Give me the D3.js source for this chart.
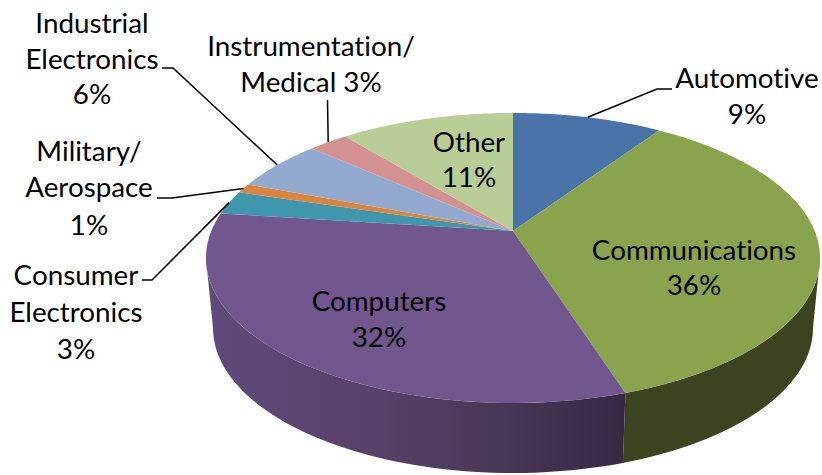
<!DOCTYPE html>
<html>

<head>
  <meta charset="utf-8">
  <script src="https://d3js.org/d3.v7.min.js"></script>
  <style>
    html, body { margin: 0; padding: 0; background: #fff; }
    svg { display: block; }
    text { font-family: Lato, "Open Sans", sans-serif; font-size: 27.8px; fill: #000; text-anchor: middle; font-variant-ligatures: none; }
  </style>
</head>

<body>
  <svg width="822" height="475"></svg>
  <script>
    // values, clockwise from the top
    const categories = ["Automotive", "Communications", "Computers", "Consumer Electronics",
      "Military/Aerospace", "Industrial Electronics", "Instrumentation/Medical", "Other"];
    const shares = [9.45, 35.7, 32.1, 2.65, 1.05, 5.8, 2.5, 11];
    const colors = ["#4a74a9", "#8aa44e", "#71578e", "#3f97ad", "#dd843c", "#92a9d0", "#d39291", "#b9cd96"];

    const svg = d3.select("svg");

    // perspective of the tilted disc
    const apexX = 513, apexY = 231, scaleX = 301.7, scaleY = 140, persp = 0.186;
    const depth = 70;

    function upperRim(a) {
      const u = Math.sin(a), v = Math.cos(a), w = 1 + persp * v;
      return [apexX + scaleX * u / w, apexY - scaleY * v / w];
    }
    // lower rim is a bit narrower than the upper one
    function lowerRim(a) {
      const p = upperRim(a);
      return [512.5 + (p[0] - 512.5) * 0.977, p[1] + depth];
    }

    function steps(a0, a1) {
      return d3.range(0, 61).map(i => a0 + (a1 - a0) * i / 60);
    }

    const arcs = d3.pie().sort(null)(shares);
    const line = d3.line();

    const defs = svg.append("defs");
    const grad = defs.append("linearGradient")
      .attr("id", "wallPurple")
      .attr("gradientUnits", "userSpaceOnUse")
      .attr("x1", 205).attr("x2", 625).attr("y1", 0).attr("y2", 0);
    grad.append("stop").attr("offset", "0").attr("stop-color", "#5f4a7c");
    grad.append("stop").attr("offset", "0.4").attr("stop-color", "#584269");
    grad.append("stop").attr("offset", "0.75").attr("stop-color", "#463552");
    grad.append("stop").attr("offset", "1").attr("stop-color", "#382745");

    // side walls, only the two front slices show; stop them at the silhouette of the disc
    const wallFill = { 1: "#3b441f", 2: "url(#wallPurple)" };
    const sideRight = Math.acos(-persp), sideLeft = 2 * Math.PI - sideRight;
    svg.append("g")
      .selectAll("path")
      .data([arcs[1], arcs[2]])
      .join("path")
      .attr("d", d => {
        const as = steps(Math.max(d.startAngle, sideRight), Math.min(d.endAngle, sideLeft));
        return line(as.map(upperRim).concat(as.slice().reverse().map(lowerRim))) + "Z";
      })
      .attr("fill", d => wallFill[d.index]);

    // top of the pie
    svg.append("g")
      .selectAll("path")
      .data(arcs)
      .join("path")
      .attr("d", d => line([[apexX, apexY]].concat(steps(d.startAngle, d.endAngle).map(upperRim))) + "Z")
      .attr("fill", (d, i) => colors[i]);

    // leader lines: elbow points, the last point sits on the rim of the slice
    const leaders = [
      { i: 0, pts: [[672, 89], [657, 89]] },
      { i: 3, pts: [[142, 280], [152, 280]] },
      { i: 4, pts: [[157, 198], [172, 198]] },
      { i: 5, pts: [[162, 68], [173, 68]] },
      { i: 6, pts: [[327.5, 100]] }
    ];
    svg.append("g")
      .selectAll("path")
      .data(leaders)
      .join("path")
      .attr("d", d => {
        const m = (arcs[d.i].startAngle + arcs[d.i].endAngle) / 2;
        return line(d.pts.concat([upperRim(m)]));
      })
      .attr("fill", "none")
      .attr("stroke", "#000")
      .attr("stroke-width", 1.5);

    // labels
    const pct = i => Math.round(shares[i]) + "%";
    const labels = [
      { x: 747, y: [88, 124], t: [categories[0], pct(0)] },
      { x: 694, y: [260, 295], t: [categories[1], pct(1)] },
      { x: 379, y: [311, 347], t: [categories[2], pct(2)] },
      { x: 76, y: [285, 322, 359], t: ["Consumer", "Electronics", pct(3)] },
      { x: 89, y: [161, 197, 235], t: ["Military/", "Aerospace", pct(4)] },
      { x: 92, y: [33, 69, 104], t: ["Industrial", "Electronics", pct(5)] },
      { x: 311, y: [56, 92], t: ["Instrumentation/", "Medical " + pct(6)] },
      { x: 469, y: [152, 187], t: [categories[7], pct(7)] }
    ];
    labels.forEach(l => {
      l.t.forEach((s, k) => {
        svg.append("text").attr("x", l.x).attr("y", l.y[k]).text(s);
      });
    });
  </script>

</body>

</html>
